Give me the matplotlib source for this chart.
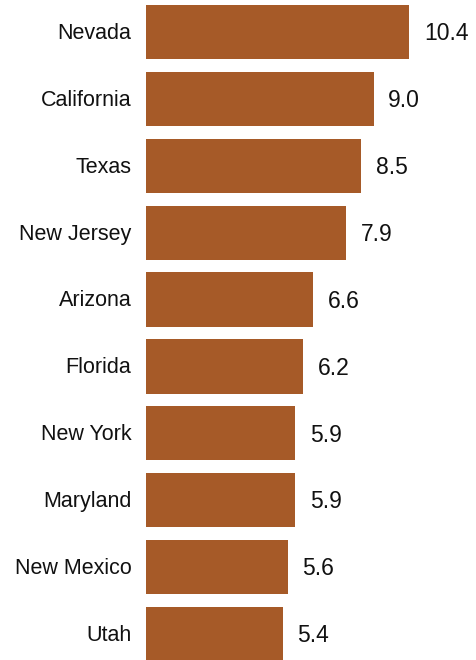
import matplotlib
matplotlib.use('Agg')
from matplotlib import pyplot as plt

states = ['Nevada', 'California', 'Texas', 'New Jersey', 'Arizona',
          'Florida', 'New York', 'Maryland', 'New Mexico', 'Utah']
values = [10.4, 9.0, 8.5, 7.9, 6.6, 6.2, 5.9, 5.9, 5.6, 5.4]

bar_color = '#A65A28'

plt.rcParams['font.family'] = ['Liberation Sans', 'DejaVu Sans']

fig = plt.figure(figsize=(4.77, 6.60), dpi=100)
ax = fig.add_axes([146 / 477, 0, 1 - 146 / 477, 1])

pos = list(range(len(states)))
ax.barh(pos, values, height=0.81, color=bar_color, edgecolor='none')

for y, v in zip(pos, values):
    # value at the end of each bar
    ax.annotate('%.1f' % v, xy=(v, y), xytext=(10.5, -1.2), textcoords='offset points',
                ha='left', va='center', fontsize=16.5, color='#111111')
    # state name left of the bar
    ax.annotate(states[y], xy=(0, y), xytext=(-10.5, -1.0), textcoords='offset points',
                ha='right', va='center', fontsize=15.5, color='#111111',
                annotation_clip=False)

ax.set_xlim(0, 13.08)
ax.set_ylim(9.387, -0.478)
ax.axis('off')

fig.savefig('out.png', dpi=100)
